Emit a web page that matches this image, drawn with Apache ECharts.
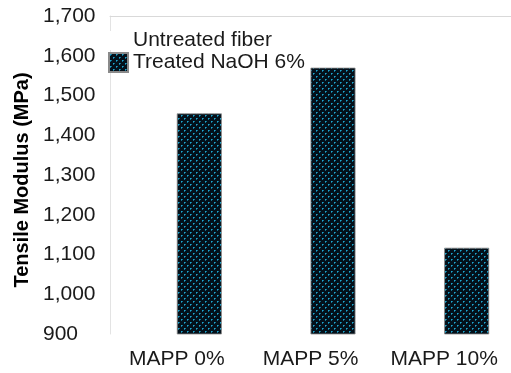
<!DOCTYPE html>
<html>
<head>
<meta charset="utf-8">
<script src="https://cdn.jsdelivr.net/npm/echarts@6/dist/echarts.min.js"></script>
<style>
  html, body { margin: 0; padding: 0; background: #fff; }
  #chart { width: 511px; height: 373px; }
</style>
</head>
<body>
<div id="chart"></div>
<script>
var categories = ['MAPP 0%', 'MAPP 5%', 'MAPP 10%'];
var seriesNames = ['Untreated fiber', 'Treated NaOH 6%'];
var untreatedValues = ['-', '-', '-'];
var treatedValues = [1455, 1570, 1117];

// dotted dark fill like the original pattern
function makePattern() {
    var c = document.createElement('canvas');
    c.width = 6;
    c.height = 6;
    var ctx = c.getContext('2d');
    ctx.fillStyle = '#03101a';
    ctx.fillRect(0, 0, 6, 6);
    ctx.fillStyle = '#1fa6cf';
    ctx.fillRect(1, 1, 1, 1);
    ctx.fillRect(4, 4, 1, 1);
    ctx.fillStyle = '#13708f';
    ctx.fillRect(2, 1, 1, 1);
    ctx.fillRect(1, 2, 1, 1);
    ctx.fillRect(5, 4, 1, 1);
    ctx.fillRect(4, 5, 1, 1);
    return c;
}

var chart = echarts.init(document.getElementById('chart'));
var fontName = 'Liberation Sans, Arial, sans-serif';
var labelFont = { fontFamily: fontName, fontSize: 21, color: '#1a1a1a' };

var option = {
    animation: false,
    textStyle: { fontFamily: fontName },
    grid: { left: 110, top: 16, width: 405, height: 318 },
    legend: {
        orient: 'vertical',
        left: 103,
        top: 25,
        icon: 'rect',
        itemWidth: 19,
        itemHeight: 19,
        itemGap: 1,
        textStyle: Object.assign({ lineHeight: 21 }, labelFont),
        data: seriesNames
    },
    xAxis: [{
        type: 'category',
        data: categories,
        axisLine: { show: false },
        axisTick: { show: false },
        axisLabel: Object.assign({ margin: 15, interval: 0 }, labelFont)
    }, {
        type: 'category',
        position: 'top',
        data: categories,
        axisLine: { show: true, lineStyle: { color: '#d9d9d9', width: 1 } },
        axisTick: { show: false },
        axisLabel: { show: false }
    }],
    yAxis: {
        type: 'value',
        min: 900,
        max: 1700,
        interval: 100,
        name: 'Tensile Modulus (MPa)',
        nameLocation: 'middle',
        nameGap: 77,
        nameTextStyle: { fontFamily: fontName, fontSize: 20, fontWeight: 'bold', color: '#000', padding: [0, 10, 0, 0] },
        axisLine: { show: true, lineStyle: { color: '#e3e3e3', width: 1 } },
        axisTick: { show: false },
        splitLine: { show: false },
        axisLabel: Object.assign({
            margin: 67,
            align: 'left',
            formatter: function (v) { return v.toLocaleString('en-US'); }
        }, labelFont)
    },
    series: [{
        name: seriesNames[0],
        type: 'bar',
        data: untreatedValues,
        barWidth: 45,
        barGap: '0%',
        itemStyle: { color: '#ffffff' }
    }, {
        name: seriesNames[1],
        type: 'bar',
        data: treatedValues,
        barWidth: 45,
        barGap: '0%',
        itemStyle: {
            color: { image: makePattern(), repeat: 'repeat' },
            borderColor: '#8a8a8a',
            borderWidth: 0.8
        }
    }]
};

chart.setOption(option);
</script>
</body>
</html>
